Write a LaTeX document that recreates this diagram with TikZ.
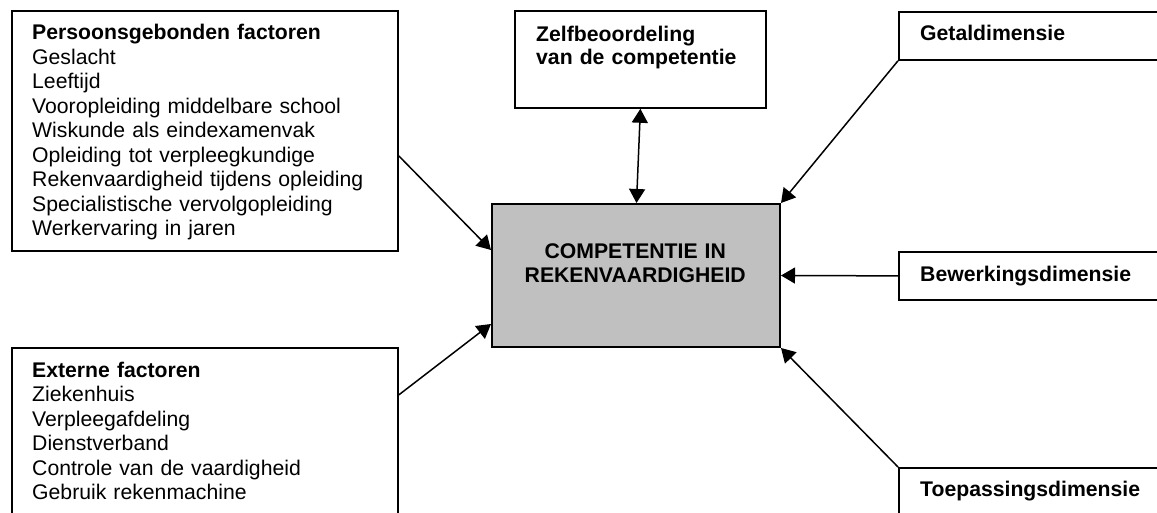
\documentclass[tikz,border=0pt]{standalone}
\usepackage{fontspec}
\setmainfont{Liberation Sans}
\usetikzlibrary{arrows.meta}
\begin{document}
\begin{tikzpicture}[x=1pt,y=1pt,
  box/.style={draw=black, line width=1.8pt, rectangle, anchor=north west, inner sep=0pt},
  lbl/.style={anchor=base west, inner sep=0pt, text width=#1, align=left,
    font=\fontsize{21.2}{24.5}\selectfont},
  conn/.style={line width=1.5pt, -{Triangle[length=14pt,width=16pt]}},
  biconn/.style={line width=1.5pt, {Triangle[length=14pt,width=16pt]}-{Triangle[length=14pt,width=16pt]}}
]
\useasboundingbox (0,0) rectangle (1157,513);
\clip (0,0) rectangle (1157,513);
\fill[white] (0,0) rectangle (1157,513);
% boxes
\node[box, minimum width=386pt, minimum height=240pt] (pers) at (11,503) {};
\node[box, minimum width=386pt, minimum height=200pt] (ext) at (11,166) {};
\node[box, minimum width=251pt, minimum height=97pt] (zelf) at (514,503) {};
\node[box, fill={rgb,255:red,192;green,192;blue,192}, line width=2pt, minimum width=288pt, minimum height=143pt] (cen) at (491,310) {};
\node[box, minimum width=300pt, minimum height=48pt] (getal) at (898,502) {};
\node[box, minimum width=300pt, minimum height=48pt] (bew) at (898,262) {};
\node[box, minimum width=300pt, minimum height=100pt] (toep) at (898,46) {};
% texts
\node[lbl=360pt] (perst) at (32,473) {\textbf{Persoonsgebonden factoren}\\Geslacht\\Leeftijd\\Vooropleiding middelbare school\\Wiskunde als eindexamenvak\\Opleiding tot verpleegkundige\\Rekenvaardigheid tijdens opleiding\\Specialistische vervolgopleiding\\Werkervaring in jaren};
\node[lbl=360pt] (extt) at (32,135.7) {\textbf{Externe factoren}\\Ziekenhuis\\Verpleegafdeling\\Dienstverband\\Controle van de vaardigheid\\Gebruik rekenmachine};
\node[lbl=225pt, font=\fontsize{21.2}{23.5}\selectfont\bfseries] (zelft) at (536,471.5) {Zelfbeoordeling\\van de competentie};
\node[lbl=240pt, font=\fontsize{21.2}{24}\selectfont\bfseries] (getalt) at (920,472.3) {Getaldimensie};
\node[lbl=240pt, font=\fontsize{21.2}{24}\selectfont\bfseries] (bewt) at (920,231.3) {Bewerkingsdimensie};
\node[lbl=240pt, font=\fontsize{21.2}{24}\selectfont\bfseries] (toept) at (920,16.3) {Toepassingsdimensie};
\node[anchor=base, inner sep=0pt, text width=280pt, align=center, font=\fontsize{21.2}{24}\selectfont\bfseries] (cent) at (635.25,254.7) {COMPETENTIE IN\\REKENVAARDIGHEID};
% connectors
\draw[conn] ([yshift=-25pt]pers.east) -- ([yshift=25.5pt]cen.west);
\draw[conn] ([yshift=53pt]ext.east) -- ([yshift=-48.5pt]cen.west);
\draw[biconn] (zelf.south) -- ([xshift=0.5pt]cen.north);
\draw[conn] (getal.south west) -- (cen.north east);
\draw[conn] (bew.west) -- (cen.east);
\draw[conn] (toep.north west) -- (cen.south east);
\end{tikzpicture}
\end{document}
